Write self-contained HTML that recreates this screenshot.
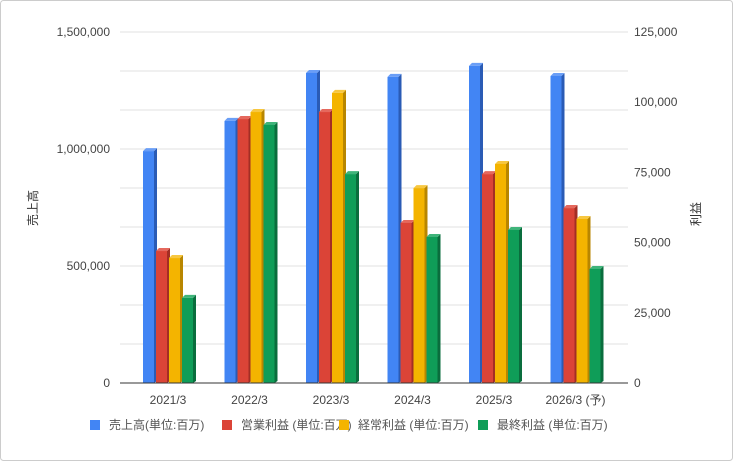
<!DOCTYPE html>
<html><head><meta charset="utf-8"><style>
html,body{margin:0;padding:0;background:#fff}
svg{display:block;font-family:"Liberation Sans","Noto Sans CJK JP",sans-serif}
</style></head><body>
<svg id="chart" width="733" height="461" viewBox="0 0 733 461">
<rect x="0.5" y="0.5" width="732" height="460" rx="3" fill="#fff" stroke="#ccc"/>
<g id="grid"></g><g id="bars"></g><g id="axes"></g>
<text transform="translate(37,208) rotate(-90)" text-anchor="middle" font-size="12" fill="#333">売上高</text>
<text transform="translate(700,214) rotate(-90)" text-anchor="middle" font-size="12" fill="#333">利益</text>
<g id="legend"></g>
</svg>
<script>
const categories=["2021/3","2022/3","2023/3","2024/3","2025/3","2026/3 (予)"];
const sales=[991000,1120000,1325000,1308000,1355000,1312000];
const opProfit=[47000,94000,96500,57000,74400,62300];
const ordProfit=[44500,96500,103300,69400,78000,58400];
const netProfit=[30300,91900,74400,52000,54500,40600];
const leftTicks=[0,500000,1000000,1500000];
const rightTicks=[0,25000,50000,75000,100000,125000];
const seriesNames=["売上高(単位:百万)","営業利益 (単位:百万)","経常利益 (単位:百万)","最終利益 (単位:百万)"];
const NS="http://www.w3.org/2000/svg";
const plotTop=32,plotBot=383,plotLeft=120,plotRight=628;
const yL=v=>plotBot-(v/1500000)*(plotBot-plotTop);
const yR=v=>plotBot-(v/125000)*(plotBot-plotTop);
const groupX=i=>143+i*81.5;
function mk(tag,attrs,parent){const e=document.createElementNS(NS,tag);for(const k in attrs)e.setAttribute(k,attrs[k]);parent.appendChild(e);return e;}
const gridG=document.getElementById('grid'),barsG=document.getElementById('bars'),axesG=document.getElementById('axes'),legendG=document.getElementById('legend');
for(let i=1;i<=9;i++){const y=plotBot-i*(plotBot-plotTop)/9;const l=mk('line',{x1:plotLeft,x2:plotRight,y1:y,y2:y,stroke:'#e0e0e0'},gridG);

}
leftTicks.forEach(v=>{const t=mk('text',{x:110,y:yL(v)+4,'text-anchor':'end','font-size':12,fill:'#444'},axesG);t.textContent=v.toLocaleString('en-US');

});
rightTicks.forEach(v=>{const t=mk('text',{x:634,y:yR(v)+4,'text-anchor':'start','font-size':12,fill:'#444'},axesG);t.textContent=v.toLocaleString('en-US');

});
const colors=[['#4285f4','#2a5bb5','#6a9ef6'],['#db4437','#a32e24','#e5685d'],['#f4b400','#b88600','#f7c740'],['#0f9d58','#0a6d3d','#3fb47a']];
const seriesY=[sales.map(yL),opProfit.map(yR),ordProfit.map(yR),netProfit.map(yR)];
const names=['sales','operating-profit','ordinary-profit','net-profit'];
categories.forEach((c,i)=>{
 seriesY.forEach((s,k)=>{
  const x=groupX(i)+k*13,y=s[i],w=11,d=3;
  const g=mk('g',{},barsG);
  
  
  mk('polygon',{points:`${x+w},${y} ${x+w+d},${y-3} ${x+w+d},${plotBot-2} ${x+w},${plotBot}`,fill:colors[k][1]},g);
  mk('polygon',{points:`${x},${y} ${x+d},${y-3} ${x+w+d},${y-3} ${x+w},${y}`,fill:colors[k][2]},g);
  mk('rect',{x:x,y:y,width:w,height:plotBot-y,fill:colors[k][0]},g);
 });
 const t=mk('text',{x:groupX(i)+25,y:404,'text-anchor':'middle','font-size':12,fill:'#444'},axesG);t.textContent=c;
 
 
});
const base=mk('line',{x1:plotLeft,x2:plotRight,y1:plotBot,y2:plotBot,stroke:'#333'},axesG);


const lx=[90,222,339,478];
seriesNames.forEach((n,k)=>{
 const g=mk('g',{},legendG);
 
 
 mk('rect',{x:lx[k],y:420,width:10,height:10,fill:colors[k][0]},g);
 const t=mk('text',{x:lx[k]+19,y:429,'font-size':12,fill:'#555'},g);t.textContent=n;
});
</script>
</body></html>
